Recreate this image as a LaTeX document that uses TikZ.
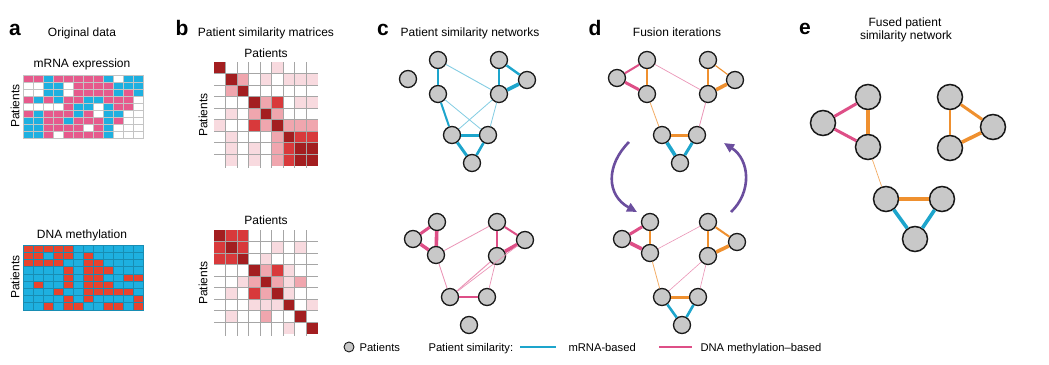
\documentclass[tikz,border=0pt]{standalone}
\usepackage{fontspec}
\setmainfont{Liberation Sans}
\usetikzlibrary{arrows.meta}
\definecolor{hP}{HTML}{E65A8C}
\definecolor{hB}{HTML}{1EB0E0}
\definecolor{hW}{HTML}{FFFFFF}
\definecolor{hR}{HTML}{E8432D}
\definecolor{s1}{HTML}{F8DADF}
\definecolor{s2}{HTML}{F0A6AE}
\definecolor{s3}{HTML}{D8393B}
\definecolor{s4}{HTML}{A31E20}
\definecolor{eblue}{HTML}{1DA5CC}
\definecolor{epink}{HTML}{DE4F87}
\definecolor{eorange}{HTML}{EF902F}
\definecolor{arrowpurple}{HTML}{6B4E9E}
\definecolor{nodegray}{HTML}{C8C8C8}
\definecolor{gridgray}{HTML}{C4C4C4}
\begin{document}
\begin{tikzpicture}[x=1pt,y=-1pt,
  pnode/.style={circle, draw=black!90, line width=1.3pt, fill=nodegray, minimum size=17pt, inner sep=0pt},
  bignode/.style={pnode, minimum size=25pt, line width=1.5pt},
  legnode/.style={pnode, minimum size=10pt, line width=0.9pt},
  eb/.style={draw=eblue, line width=#1},
  ep/.style={draw=epink, line width=#1},
  eo/.style={draw=eorange, line width=#1},
  ebt/.style={draw=eblue!55, line width=#1},
  ept/.style={draw=epink!60, line width=#1},
  eot/.style={draw=eorange!75, line width=#1},
  farrow/.style={draw=arrowpurple, line width=2.6pt, -{Triangle[length=10pt,width=9pt]}},
  plabel/.style={font=\fontsize{21}{21}\selectfont\bfseries, anchor=base},
  ttl/.style={font=\fontsize{12}{14}\selectfont, anchor=base},
  leg/.style={font=\fontsize{11.2}{14}\selectfont, anchor=base west},
  mgrid/.style={draw=gray!70, line width=0.5pt},
  cellgrid/.style={draw=gridgray, line width=0.4pt}
]
\useasboundingbox (0,0) rectangle (1049,364);
\fill[white] (0,0) rectangle (1049,364);

% ---------- panel a ----------
\node[plabel] (la) at (15,35) {a};
\node[ttl] (ta) at (82,36) {Original data};
\node[ttl] (ta1) at (82,67) {mRNA expression};
\node[ttl, rotate=90, anchor=center] (pa1) at (15,106) {Patients};
\foreach \row [count=\i] in {
 {P,P,B,P,P,P,P,P,B,W,B,B},
 {W,W,B,B,W,P,P,P,P,B,B,B},
 {W,W,B,B,W,P,P,P,P,B,P,B},
 {P,B,P,B,P,P,B,B,P,P,P,W},
 {W,W,W,W,P,B,B,W,B,P,P,W},
 {P,B,P,P,P,B,P,W,B,B,W,W},
 {B,B,P,P,B,P,P,P,B,P,W,W},
 {B,B,P,P,P,P,W,P,B,W,W,W},
 {B,B,P,W,P,P,P,P,B,W,W,W}} {
  \foreach \c [count=\j] in \row {
    \path[fill=h\c, cellgrid] ({23+(\j-1)*10},{75+(\i-1)*7}) rectangle ++(10,7);
  }
}
\node[ttl] (ta2) at (82,238) {DNA methylation};
\node[ttl, rotate=90, anchor=center] (pa2) at (15,277) {Patients};
\foreach \row [count=\i] in {
 {R,R,R,R,R,B,B,B,B,B,B,B},
 {R,R,B,R,R,B,R,B,B,B,B,B},
 {R,R,R,R,B,B,R,R,B,B,B,B},
 {B,B,B,B,R,B,R,R,R,B,B,B},
 {B,B,B,B,R,B,R,R,B,B,R,R},
 {B,R,B,B,R,B,R,R,R,B,B,B},
 {B,B,B,R,B,B,R,R,R,R,R,B},
 {B,B,B,B,R,B,R,B,B,B,B,R},
 {B,B,R,B,R,R,B,B,R,R,B,R}} {
  \foreach \c [count=\j] in \row {
    \path[fill=h\c, draw=hB!80!black, line width=0.3pt] ({23+(\j-1)*10},{245+(\i-1)*7.2}) rectangle ++(10,7.2);
  }
}

% ---------- panel b ----------
\node[plabel] (lb) at (182,35) {b};
\node[ttl] (tb) at (266,36) {Patient similarity matrices};
\node[ttl] (tb1) at (266,57) {Patients};
\node[ttl, rotate=90, anchor=center] (pb1) at (203,115) {Patients};
\foreach \row [count=\i] in {
 {4,0,0,0,0,1,0,0,0},
 {0,4,2,0,1,0,1,1,1},
 {0,2,4,0,0,0,0,0,0},
 {0,0,0,4,2,3,0,1,1},
 {0,1,0,2,4,2,0,0,0},
 {1,0,0,3,2,4,2,2,2},
 {0,1,0,0,0,2,4,3,3},
 {0,1,0,1,0,2,3,4,4},
 {0,1,0,1,0,2,3,4,4}} {
  \foreach \v [count=\j] in \row {
    \ifnum\v>0 \fill[s\v] ({214+(\j-1)*11.5},{62+(\i-1)*11.5}) rectangle ++(11.5,11.5);\fi
  }
}
\foreach \k in {1,...,8} {
  \draw[mgrid] (214,{62+\k*11.5}) -- (317.5,{62+\k*11.5});
  \draw[mgrid] ({214+\k*11.5},62) -- ({214+\k*11.5},167.5);
}
\node[ttl] (tb2) at (266,224) {Patients};
\node[ttl, rotate=90, anchor=center] (pb2) at (203,283) {Patients};
\foreach \row [count=\i] in {
 {4,3,3,0,0,0,0,0,0},
 {3,4,3,0,0,1,0,1,0},
 {3,3,4,0,1,0,0,0,0},
 {0,0,0,4,2,3,1,0,0},
 {0,0,1,2,4,2,1,2,0},
 {0,1,0,3,2,4,1,0,0},
 {0,0,0,1,1,1,4,0,1},
 {0,1,0,0,2,0,0,4,0},
 {0,0,0,0,0,0,1,0,4}} {
  \foreach \v [count=\j] in \row {
    \ifnum\v>0 \fill[s\v] ({214+(\j-1)*11.5},{230+(\i-1)*11.5}) rectangle ++(11.5,11.5);\fi
  }
}
\foreach \k in {1,...,8} {
  \draw[mgrid] (214,{230+\k*11.5}) -- (317.5,{230+\k*11.5});
  \draw[mgrid] ({214+\k*11.5},230) -- ({214+\k*11.5},335.5);
}

% ---------- panel c ----------
\node[plabel] (lc) at (383,35) {c};
\node[ttl] (tc) at (470,36) {Patient similarity networks};
\node[pnode] (ca1) at (408,79) {};
\node[pnode] (ca2) at (438,60) {};
\node[pnode] (ca3) at (438,94) {};
\node[pnode] (ca4) at (499,60) {};
\node[pnode] (ca5) at (527,80) {};
\node[pnode] (ca6) at (499,94) {};
\node[pnode] (ca7) at (452,135) {};
\node[pnode] (ca8) at (488,135) {};
\node[pnode] (ca9) at (472,163) {};
\draw[eb=1.3pt] (ca2) -- (ca3);
\draw[ebt=0.9pt] (ca2) -- (ca6);
\draw[eb=2pt] (ca4) -- (ca6);
\draw[eb=2.4pt] (ca4) -- (ca5);
\draw[eb=3.6pt] (ca5) -- (ca6);
\draw[eb=2pt] (ca3) -- (ca7);
\draw[ebt=0.8pt] (ca3) -- (ca8);
\draw[ebt=0.8pt] (ca6) -- (ca7);
\draw[ebt=0.8pt] (ca6) -- (ca8);
\draw[eb=3pt] (ca7) -- (ca8);
\draw[eb=3pt] (ca7) -- (ca9);
\draw[eb=2.6pt] (ca8) -- (ca9);

\node[pnode] (cb1) at (437,222) {};
\node[pnode] (cb2) at (413,239) {};
\node[pnode] (cb3) at (436,255) {};
\node[pnode] (cb4) at (497,222) {};
\node[pnode] (cb5) at (525,240) {};
\node[pnode] (cb6) at (497,256) {};
\node[pnode] (cb7) at (450,297) {};
\node[pnode] (cb8) at (487,297) {};
\node[pnode] (cb9) at (469,325) {};
\draw[ep=3pt] (cb1) -- (cb2);
\draw[ep=3.6pt] (cb1) -- (cb3);
\draw[ep=3.4pt] (cb2) -- (cb3);
\draw[ept=0.8pt] (cb3) -- (cb4);
\draw[ep=2.6pt] (cb4) -- (cb6);
\draw[ep=2pt] (cb4) -- (cb5);
\draw[ep=3.6pt] (cb5) -- (cb6);
\draw[ept=0.8pt] (cb3) -- (cb7);
\draw[ept=1pt] (cb6) -- (cb7);
\draw[ept=0.7pt] (cb5) -- (cb7);
\draw[ept=0.7pt] (cb6) -- (cb8);
\draw[ep=2pt] (cb7) -- (cb8);

% ---------- panel d ----------
\node[plabel] (ld) at (595,35) {d};
\node[ttl] (td) at (677,36) {Fusion iterations};
\node[pnode] (da1) at (647,60) {};
\node[pnode] (da2) at (617,78) {};
\node[pnode] (da3) at (647,94) {};
\node[pnode] (da4) at (708,60) {};
\node[pnode] (da5) at (735,80) {};
\node[pnode] (da6) at (708,94) {};
\node[pnode] (da7) at (662,135) {};
\node[pnode] (da8) at (697,135) {};
\node[pnode] (da9) at (680,163) {};
\draw[ep=2pt] (da1) -- (da2);
\draw[ep=3pt] (da2) -- (da3);
\draw[eo=2.6pt] (da1) -- (da3);
\draw[ept=0.7pt] (da1) -- (da6);
\draw[eo=2pt] (da4) -- (da6);
\draw[eo=1.1pt] (da4) -- (da5);
\draw[eo=3.6pt] (da5) -- (da6);
\draw[eot=0.8pt] (da3) -- (da7);
\draw[ept=0.8pt] (da6) -- (da8);
\draw[eo=3pt] (da7) -- (da8);
\draw[eb=3.6pt] (da7) -- (da9);
\draw[eb=3pt] (da8) -- (da9);

\node[pnode] (db1) at (650,222) {};
\node[pnode] (db2) at (622,239) {};
\node[pnode] (db3) at (650,253) {};
\node[pnode] (db4) at (708,222) {};
\node[pnode] (db5) at (737,242) {};
\node[pnode] (db6) at (708,256) {};
\node[pnode] (db7) at (662,297) {};
\node[pnode] (db8) at (698,297) {};
\node[pnode] (db9) at (682,325) {};
\draw[ep=3pt] (db1) -- (db2);
\draw[ep=3.6pt] (db2) -- (db3);
\draw[eo=2.6pt] (db1) -- (db3);
\draw[ept=0.6pt] (db3) -- (db4);
\draw[eo=2.6pt] (db4) -- (db6);
\draw[eo=2pt] (db4) -- (db5);
\draw[eo=3.6pt] (db5) -- (db6);
\draw[eot=0.8pt] (db3) -- (db7);
\draw[ept=0.6pt] (db6) -- (db7);
\draw[ept=0.6pt] (db6) -- (db8);
\draw[eo=3pt] (db7) -- (db8);
\draw[eb=2.6pt] (db7) -- (db9);
\draw[eb=2.6pt] (db8) -- (db9);

\coordinate (la1) at (629,142);
\coordinate (la2) at (637,212);
\coordinate (ra1) at (731,212);
\coordinate (ra2) at (724,143);
\draw[farrow] (la1) .. controls (606,165) and (606,195) .. (la2);
\draw[farrow] (ra1) .. controls (752,192) and (750,160) .. (ra2);

% ---------- panel e ----------
\node[plabel] (le) at (805,34) {e};
\node[ttl] (te1) at (905,26) {Fused patient};
\node[ttl] (te2) at (906,39) {similarity network};
\node[bignode] (e1) at (868,97) {};
\node[bignode] (e2) at (823,123) {};
\node[bignode] (e3) at (868,147) {};
\node[bignode] (e4) at (950,97) {};
\node[bignode] (e5) at (993,127) {};
\node[bignode] (e6) at (950,148) {};
\node[bignode] (e7) at (886,199) {};
\node[bignode] (e8) at (942,199) {};
\node[bignode] (e9) at (915,239) {};
\draw[ep=3pt] (e1) -- (e2);
\draw[ep=3pt] (e2) -- (e3);
\draw[eo=3.6pt] (e1) -- (e3);
\draw[eo=3pt] (e4) -- (e5);
\draw[eo=2.6pt] (e4) -- (e6);
\draw[eo=3.6pt] (e5) -- (e6);
\draw[eot=0.7pt] (e3) -- (e7);
\draw[eo=4pt] (e7) -- (e8);
\draw[eb=3.6pt] (e7) -- (e9);
\draw[eb=3.6pt] (e8) -- (e9);

% ---------- legend ----------
\node[legnode] (lg0) at (349,347) {};
\node[leg] (lg1) at (356,351) {Patients};
\node[leg] (lg2) at (425,351) {Patient similarity:};
\coordinate (bl1) at (520,347);
\coordinate (bl2) at (556,347);
\draw[eb=1.6pt] (bl1) -- (bl2);
\node[leg] (lg3) at (565,351) {mRNA-based};
\coordinate (pl1) at (659,347);
\coordinate (pl2) at (692,347);
\draw[ep=1.6pt] (pl1) -- (pl2);
\node[leg] (lg4) at (697,351) {DNA methylation–based};
\end{tikzpicture}
\end{document}
